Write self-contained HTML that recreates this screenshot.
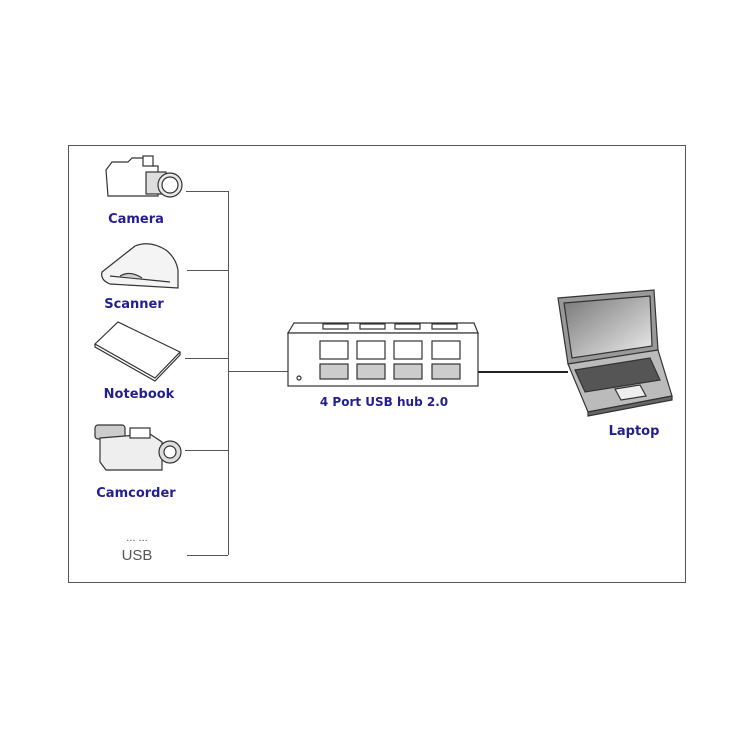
<!DOCTYPE html>
<html><head><meta charset="utf-8"><style>
body{margin:0;background:#fff;}
svg{display:block}
.l{font-family:"DejaVu Sans","Liberation Sans",sans-serif;font-weight:bold;font-size:13px;fill:#231f8f;text-anchor:middle}
</style></head><body>
<svg width="740" height="740" viewBox="0 0 740 740">
<defs><linearGradient id="g" x1="0" y1="0" x2="1" y2="1"><stop offset="0" stop-color="#777"/><stop offset="1" stop-color="#eee"/></linearGradient></defs>
<rect x="68.5" y="145.5" width="617" height="437" fill="#fff" stroke="#555" stroke-width="1"/>
<g stroke="#555" stroke-width="1" fill="none">
<line x1="228.5" y1="191" x2="228.5" y2="555"/>
<line x1="186" y1="191.5" x2="228" y2="191.5"/>
<line x1="187" y1="270.5" x2="228" y2="270.5"/>
<line x1="185" y1="358.5" x2="228" y2="358.5"/>
<line x1="185" y1="450.5" x2="228" y2="450.5"/>
<line x1="187" y1="555.5" x2="228" y2="555.5"/>
<line x1="228" y1="371.5" x2="288" y2="371.5"/>
</g>
<line x1="478" y1="372" x2="568" y2="372" stroke="#222" stroke-width="2"/>
<!-- camera -->
<g stroke="#333" stroke-width="1.2" fill="#fff">
<path d="M106 170 L112 162 L128 162 L132 158 L150 158 L152 166 L158 166 L158 196 L108 196 Z"/>
<rect x="143" y="156" width="10" height="10"/>
<rect x="146" y="172" width="20" height="22" fill="#ddd"/>
<circle cx="170" cy="185" r="12" fill="#e8e8e8"/>
<circle cx="170" cy="185" r="8" fill="#fff"/>
</g>
<!-- scanner -->
<g stroke="#333" stroke-width="1.2" fill="#f4f4f4">
<path d="M102 272 L135 246 Q150 240 166 250 Q176 258 178 270 L178 288 L110 284 Q100 280 102 272 Z"/>
<path d="M110 276 L170 282" fill="none"/>
<path d="M120 276 Q130 270 142 278" fill="#ccc"/>
</g>
<!-- notebook -->
<g stroke="#333" stroke-width="1.2" fill="#fff">
<path d="M95 344 L118 322 L180 352 L155 378 Z"/>
<path d="M95 344 L95 347 L155 381 L180 355 L180 352" fill="none"/>
</g>
<!-- camcorder -->
<g stroke="#333" stroke-width="1.2" fill="#eee">
<rect x="95" y="425" width="30" height="14" rx="3" fill="#ccc"/>
<path d="M100 438 L150 434 L162 442 L162 470 L106 470 L100 462 Z"/>
<rect x="130" y="428" width="20" height="10" fill="#fff"/>
<circle cx="170" cy="452" r="11" fill="#ddd"/>
<circle cx="170" cy="452" r="6" fill="#fff"/>
</g>
<!-- hub -->
<g stroke="#333" stroke-width="1.2" fill="#fff">
<path d="M288 333 L294 323 L474 323 L478 333 Z"/>
<rect x="288" y="333" width="190" height="53"/>
<rect x="323" y="324" width="25" height="5"/><rect x="360" y="324" width="25" height="5"/><rect x="395" y="324" width="25" height="5"/><rect x="432" y="324" width="25" height="5"/>
<g fill="#fff">
<rect x="320" y="341" width="28" height="18"/><rect x="357" y="341" width="28" height="18"/><rect x="394" y="341" width="28" height="18"/><rect x="432" y="341" width="28" height="18"/>
</g>
<g fill="#ccc">
<rect x="320" y="364" width="28" height="15"/><rect x="357" y="364" width="28" height="15"/><rect x="394" y="364" width="28" height="15"/><rect x="432" y="364" width="28" height="15"/>
</g>
<circle cx="299" cy="378" r="2"/>
</g>
<!-- laptop -->
<g stroke="#333" stroke-width="1.2">
<path d="M558 298 L654 290 L658 350 L568 364 Z" fill="#999"/>
<path d="M564 303 L650 296 L652 346 L572 358 Z" fill="url(#g)"/>
<path d="M568 364 L658 350 L672 396 L588 412 Z" fill="#bbb"/>
<path d="M575 370 L650 358 L660 380 L585 392 Z" fill="#555"/>
<path d="M615 389 L640 385 L646 396 L621 400 Z" fill="#eee"/>
<path d="M588 412 L672 396 L672 400 L588 416 Z" fill="#666"/>
</g>
<text class="l" x="136" y="223">Camera</text>
<text class="l" x="134" y="308">Scanner</text>
<text class="l" x="139" y="398">Notebook</text>
<text class="l" x="136" y="497">Camcorder</text>
<text x="137" y="541" font-family="Liberation Sans,sans-serif" font-size="11" fill="#555" text-anchor="middle">... ...</text>
<text x="137" y="560" font-family="Liberation Sans,sans-serif" font-size="15" fill="#555" text-anchor="middle">USB</text>
<text class="l" x="384" y="406" style="font-size:12px">4 Port USB hub 2.0</text>
<text class="l" x="634" y="435">Laptop</text>
</svg>
</body></html>
